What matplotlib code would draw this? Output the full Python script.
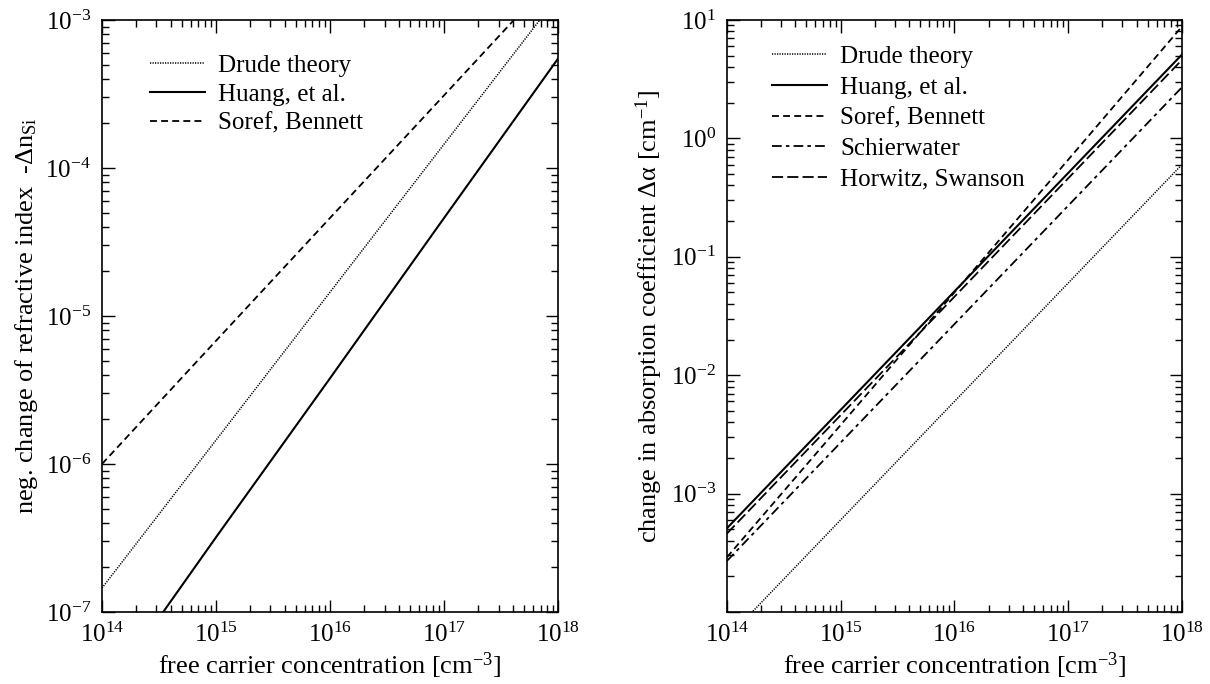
import numpy as np
import matplotlib
matplotlib.use("Agg")
import matplotlib.pyplot as plt
from matplotlib.ticker import LogLocator, FuncFormatter, NullFormatter

plt.rcParams['font.family'] = ['Liberation Serif', 'DejaVu Serif']
plt.rcParams['mathtext.fontset'] = 'custom'
plt.rcParams['mathtext.rm'] = 'Liberation Serif'
plt.rcParams['mathtext.it'] = 'Liberation Serif:italic'
plt.rcParams['lines.scale_dashes'] = False

# free carrier concentration [cm^-3], one point per decade
conc = np.array([1e14, 1e15, 1e16, 1e17, 1e18])

# left panel: -delta n
dn_drude = np.array([1.45e-7, 1.45e-6, 1.45e-5, 1.45e-4, 1.45e-3])
dn_huang = np.array([2.6e-8, 3.2e-7, 3.8e-6, 4.6e-5, 5.5e-4])
dn_soref = np.array([1.0e-6, 6.8e-6, 4.6e-5, 3.1e-4, 2.1e-3])

# right panel: delta alpha [cm^-1]
da_drude = np.array([6.0e-5, 6.0e-4, 6.0e-3, 6.0e-2, 6.0e-1])
da_huang = np.array([5.1e-4, 5.1e-3, 5.1e-2, 5.1e-1, 5.1])
da_soref = np.array([2.9e-4, 3.8e-3, 5.0e-2, 6.6e-1, 8.8])
da_schier = np.array([2.7e-4, 2.7e-3, 2.7e-2, 2.7e-1, 2.7])
da_horwitz = np.array([4.6e-4, 4.6e-3, 4.6e-2, 4.6e-1, 4.6])

left_labels = ["Drude theory", "Huang, et al.", "Soref, Bennett"]
right_labels = ["Drude theory", "Huang, et al.", "Soref, Bennett",
                "Schierwater", "Horwitz, Swanson"]

styles = {
    "Drude theory": dict(dashes=(0.9, 0.9), lw=1.1),
    "Huang, et al.": dict(dashes=(), lw=1.5),
    "Soref, Bennett": dict(dashes=(5, 3), lw=1.3),
    "Schierwater": dict(dashes=(7, 3, 2.5, 3), lw=1.3),
    "Horwitz, Swanson": dict(dashes=(8, 3), lw=1.3),
}


def exp_label(v, pos):
    e = int(round(np.log10(v)))
    return r'$\mathregular{10^{%d}}$' % e


def style_axes(ax, ylim, hide_bottom=False):
    ax.set_xscale('log')
    ax.set_yscale('log')
    ax.set_xlim(1e14, 1e18)
    ax.set_ylim(*ylim)
    ax.xaxis.set_major_locator(LogLocator(base=10, numticks=10))
    ax.xaxis.set_minor_locator(LogLocator(base=10, subs=np.arange(2, 10), numticks=10))
    ax.yaxis.set_major_locator(LogLocator(base=10, numticks=10))
    ax.yaxis.set_minor_locator(LogLocator(base=10, subs=np.arange(2, 10), numticks=10))
    ax.xaxis.set_major_formatter(FuncFormatter(exp_label))
    if hide_bottom:
        ax.yaxis.set_major_formatter(FuncFormatter(
            lambda v, p: '' if v < ylim[0] * 1.5 else exp_label(v, p)))
    else:
        ax.yaxis.set_major_formatter(FuncFormatter(exp_label))
    ax.xaxis.set_minor_formatter(NullFormatter())
    ax.yaxis.set_minor_formatter(NullFormatter())
    ax.tick_params(which='both', direction='in', top=True, right=True,
                   labelsize=18, width=1.0, pad=8)
    ax.tick_params(which='major', length=9)
    ax.tick_params(which='minor', length=5)
    for s in ax.spines.values():
        s.set_linewidth(1.2)
    ax.set_xlabel(r'free carrier concentration [cm$^{-3}$]', fontsize=19, labelpad=2)


fig = plt.figure(figsize=(12.1, 6.84), dpi=100)
ax1 = fig.add_axes([0.0843, 0.1053, 0.377, 0.8655])
ax2 = fig.add_axes([0.6008, 0.1053, 0.376, 0.8655])

for lab, vals in zip(left_labels, [dn_drude, dn_huang, dn_soref]):
    ax1.plot(conc, vals, color='black', label=lab, **styles[lab])
style_axes(ax1, (1e-7, 1e-3))
ax1.set_ylabel(r'neg. change of refractive index  -$\Delta$n$_{\rm Si}$', fontsize=19, labelpad=4)
ax1.legend(loc='upper left', bbox_to_anchor=(0.105, 0.942), frameon=False,
           fontsize=18, handlelength=2.2, handletextpad=0.52, labelspacing=0.25,
           borderpad=0, borderaxespad=0)

for lab, vals in zip(right_labels, [da_drude, da_huang, da_soref, da_schier, da_horwitz]):
    ax2.plot(conc, vals, color='black', label=lab, **styles[lab])
style_axes(ax2, (1e-4, 1e1), hide_bottom=True)
ax2.set_ylabel(r'change in absorption coefficient $\mathregular{\Delta\alpha}$ [cm$^{-1}$]',
               fontsize=19, labelpad=4)
ax2.legend(loc='upper left', bbox_to_anchor=(0.099, 0.957), frameon=False,
           fontsize=18, handlelength=2.2, handletextpad=0.52, labelspacing=0.33,
           borderpad=0, borderaxespad=0)

fig.savefig('out.png', dpi=100)
